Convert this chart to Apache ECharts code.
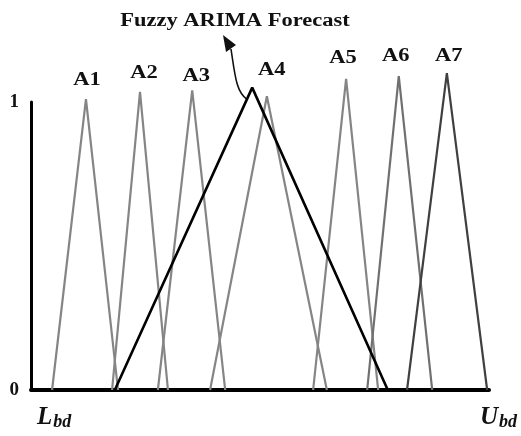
<!DOCTYPE html>
<html><head><meta charset="utf-8">
<script src="https://cdn.jsdelivr.net/npm/echarts@6/dist/echarts.min.js"></script>
<style>html,body{margin:0;padding:0;background:#fff}#c{width:521px;height:436px}</style>
</head><body><div id="c"></div>
<script>
// Fuzzy sets: [left foot, peak, right foot] on a 0..100 universe (Lbd..Ubd)
var setNames = ['A1','A2','A3','A4','A5','A6','A7'];
var leftFoot  = [4.6, 17.7, 27.7, 39.1, 61.6, 73.4, 82.1];
var peakPos   = [12.0, 23.8, 35.2, 51.5, 68.8, 80.3, 90.8];
var rightFoot = [19.0, 29.9, 42.4, 64.6, 75.8, 87.6, 99.6];
var peakHeight= [1.01, 1.035, 1.04, 1.02, 1.08, 1.09, 1.10];
var setColors = ['#858585','#858585','#858585','#858585','#858585','#707070','#404040'];
// Fuzzy ARIMA forecast triangle
var forecastName = 'Fuzzy ARIMA Forecast';
var forecastLeft = 18.3, forecastPeak = 48.3, forecastRight = 77.9, forecastHeight = 1.05;
var yTicks = [0, 1];
var xEndLabels = [['L','bd'], ['U','bd']];

var serif = 'Liberation Serif';
// label placement tweaks (px) — styling only
var labelDx = [1, 4, 4, 5, -3, -3, 2];
var labelDy = [-19, -19, -14, -26, -21, -20, -17];

var series = setNames.map(function(n, i){
  return {
    type: 'line', name: n, clip: false, symbol: 'none', silent: true,
    lineStyle: {color: setColors[i], width: 2.2},
    data: [[leftFoot[i], 0], [peakPos[i], peakHeight[i]], [rightFoot[i], 0]]
  };
});
series.push({
  type: 'line', name: forecastName, clip: false, symbol: 'none', silent: true,
  lineStyle: {color: '#000', width: 2.6}, z: 5,
  data: [[forecastLeft, 0], [forecastPeak, forecastHeight], [forecastRight, 0]]
});

var chart = echarts.init(document.getElementById('c'));
chart.setOption({
  animation: false,
  backgroundColor: '#fff',
  grid: {left: 31, right: 32, top: 102, bottom: 46},
  xAxis: {type: 'value', min: 0, max: 100, splitLine: {show: false},
    axisLine: {lineStyle: {color: '#000', width: 4}}, axisTick: {show: false}, axisLabel: {show: false}},
  yAxis: {type: 'value', min: 0, max: 1, interval: 1, splitLine: {show: false},
    axisLine: {show: true, lineStyle: {color: '#000', width: 3}}, axisTick: {show: false},
    axisLabel: {margin: 12, fontFamily: serif, fontWeight: 'bold', fontSize: 19, color: '#111',
      formatter: function(v){ return yTicks.indexOf(v) >= 0 ? String(v) : ''; }}},
  series: series
});

// Annotations: set labels placed above each peak (positions derived from the data via the axes)
var gfx = [];
setNames.forEach(function(n, i){
  var p = chart.convertToPixel({gridIndex: 0}, [peakPos[i], peakHeight[i]]);
  gfx.push({type: 'text', x: p[0] + labelDx[i], y: p[1] + labelDy[i], scaleX: 1.25,
    style: {text: n, fontFamily: serif, fontWeight: 'bold', fontSize: 18, fill: '#111',
      align: 'center', verticalAlign: 'middle'}});
});
gfx.push({type: 'text', x: 235, y: 21, scaleX: 1.25,
  style: {text: forecastName, fontFamily: serif, fontWeight: 'bold', fontSize: 18, fill: '#111',
    align: 'center', verticalAlign: 'middle'}});
var endStyle = {a: {fontFamily: serif, fontStyle: 'italic', fontWeight: 'bold', fontSize: 25, fill: '#111'},
                b: {fontFamily: serif, fontStyle: 'italic', fontWeight: 'bold', fontSize: 18, fill: '#111', padding: [10,0,0,1]}};
gfx.push({type: 'text', left: 37, top: 405, style: {
  text: '{a|' + xEndLabels[0][0] + '}{b|' + xEndLabels[0][1] + '}', rich: endStyle}});
gfx.push({type: 'text', left: 480, top: 405, style: {
  text: '{a|' + xEndLabels[1][0] + '}{b|' + xEndLabels[1][1] + '}', rich: endStyle}});
var fp = chart.convertToPixel({gridIndex: 0}, [forecastPeak, forecastHeight]);
gfx.push({type: 'bezierCurve', shape: {x1: fp[0] - 5, y1: fp[1] + 12, cpx1: 236, cpy1: 92, cpx2: 235, cpy2: 75, x2: 231, y2: 49},
  style: {stroke: '#111', lineWidth: 1.6, fill: null}});
gfx.push({type: 'polygon', shape: {points: [[223, 35], [236, 45], [226, 52]]}, style: {fill: '#111'}});
chart.setOption({graphic: gfx});
</script></body></html>
